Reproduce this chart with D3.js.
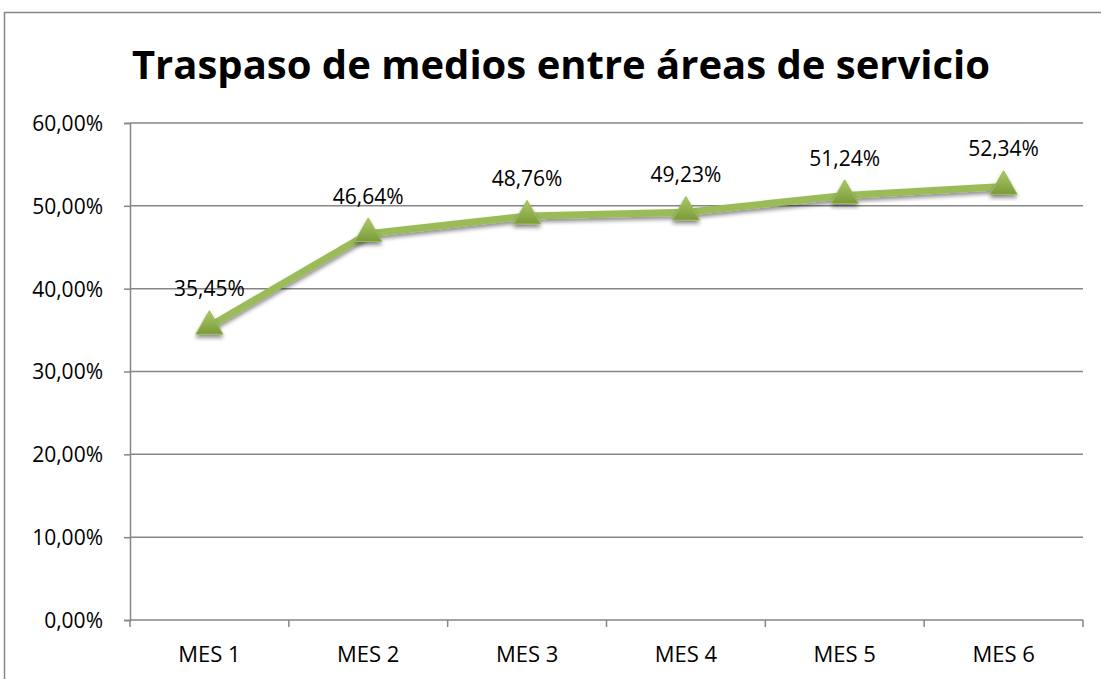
<!DOCTYPE html>
<html>
<head>
<meta charset="utf-8">
<script src="https://cdn.jsdelivr.net/npm/d3@7"></script>
<style>
  html, body { margin: 0; padding: 0; background: #fff; }
  text { font-family: "Open Sans", "Noto Sans", sans-serif; fill: #000; }
</style>
</head>
<body>
<div id="chart"></div>
<script>
const categories = ['MES 1', 'MES 2', 'MES 3', 'MES 4', 'MES 5', 'MES 6'];
const values = [35.45, 46.64, 48.76, 49.23, 51.24, 52.34];
const yTicks = [0, 10, 20, 30, 40, 50, 60];
const title = 'Traspaso de medios entre áreas de servicio';

const W = 1101, H = 679;
const margin = { top: 123, right: 18, bottom: 59, left: 130 };
const fmt = v => d3.format('.2f')(v).replace('.', ',') + '%';

const svg = d3.select('#chart').append('svg')
  .attr('width', W)
  .attr('height', H);

// outer chart frame
svg.append('rect')
  .attr('x', 4.5).attr('y', 12.5)
  .attr('width', W + 10).attr('height', H + 10)
  .attr('fill', 'none')
  .attr('stroke', '#868686')
  .attr('stroke-width', 1.5);

const defs = svg.append('defs');
const grad = defs.append('linearGradient')
  .attr('id', 'tri-grad')
  .attr('x1', 0).attr('y1', 0).attr('x2', 0).attr('y2', 1);
grad.append('stop').attr('offset', '0%').attr('stop-color', '#a9cb64');
grad.append('stop').attr('offset', '100%').attr('stop-color', '#7a9a3a');

const shadow = defs.append('filter')
  .attr('id', 'shadow')
  .attr('x', '-50%').attr('y', '-50%')
  .attr('width', '200%').attr('height', '200%');
shadow.append('feGaussianBlur').attr('in', 'SourceAlpha').attr('stdDeviation', 2).attr('result', 'blur');
shadow.append('feOffset').attr('in', 'blur').attr('dx', 0).attr('dy', 3).attr('result', 'off');
shadow.append('feComponentTransfer').attr('in', 'off').attr('result', 'soft')
  .append('feFuncA').attr('type', 'linear').attr('slope', 0.45);
const merge = shadow.append('feMerge');
merge.append('feMergeNode').attr('in', 'soft');
merge.append('feMergeNode').attr('in', 'SourceGraphic');

const x = d3.scaleBand()
  .domain(categories)
  .range([margin.left, W - margin.right]);

const y = d3.scaleLinear()
  .domain([0, 60])
  .range([H - margin.bottom, margin.top]);

// title
svg.append('text')
  .attr('x', 561)
  .attr('y', 79)
  .attr('text-anchor', 'middle')
  .style('font-weight', 'bold')
  .style('font-size', '40px')
  .text(title);

// horizontal gridlines
svg.append('g')
  .selectAll('line')
  .data(yTicks.filter(d => d > 0))
  .join('line')
  .attr('x1', margin.left).attr('x2', W - margin.right)
  .attr('y1', d => y(d)).attr('y2', d => y(d))
  .attr('stroke', '#868686')
  .attr('stroke-width', 1.5);

// y axis
const yAxis = svg.append('g')
  .attr('transform', `translate(${margin.left},0)`)
  .call(d3.axisLeft(y).tickValues(yTicks).tickFormat(fmt).tickSize(6).tickPadding(21));
yAxis.select('.domain').attr('stroke', '#868686').attr('stroke-width', 1.5);
yAxis.selectAll('.tick line').attr('stroke', '#868686').attr('stroke-width', 1.5);
yAxis.selectAll('.tick text')
  .style('font-size', '21px')
  .attr('fill', '#000')
  .attr('dy', '0.35em');

// x axis, ticks at category boundaries
const xAxisG = svg.append('g')
  .attr('transform', `translate(0,${H - margin.bottom})`);
xAxisG.append('line')
  .attr('x1', margin.left).attr('x2', W - margin.right)
  .attr('stroke', '#868686').attr('stroke-width', 1.5);
const bounds = categories.map(c => x(c)).concat([x(categories[categories.length - 1]) + x.bandwidth()]);
xAxisG.selectAll('.xtick')
  .data(bounds)
  .join('line')
  .attr('class', 'xtick')
  .attr('x1', d => d).attr('x2', d => d)
  .attr('y1', 0).attr('y2', 7)
  .attr('stroke', '#868686').attr('stroke-width', 1.5);
xAxisG.selectAll('.xlabel')
  .data(categories)
  .join('text')
  .attr('class', 'xlabel')
  .attr('x', d => x(d) + x.bandwidth() / 2)
  .attr('y', 42)
  .attr('text-anchor', 'middle')
  .style('font-size', '22px')
  .text(d => d);

// series line
const cx = d => x(d) + x.bandwidth() / 2;
const pts = categories.map((c, i) => [cx(c), y(values[i])]);

svg.append('path')
  .datum(pts)
  .attr('d', d3.line())
  .attr('fill', 'none')
  .attr('stroke', '#9bbb59')
  .attr('stroke-width', 7)
  .attr('stroke-linejoin', 'round')
  .attr('filter', 'url(#shadow)');

// triangle markers
const tri = d3.symbol().type(d3.symbolTriangle).size(320);
svg.append('g')
  .selectAll('path')
  .data(pts)
  .join('path')
  .attr('transform', d => `translate(${d[0]},${d[1]})`)
  .attr('d', tri)
  .attr('fill', 'url(#tri-grad)')
  .attr('stroke', '#9bbb59')
  .attr('stroke-width', 1)
  .attr('filter', 'url(#shadow)');

// data labels
svg.append('g')
  .selectAll('text')
  .data(values)
  .join('text')
  .attr('x', (d, i) => cx(categories[i]))
  .attr('y', d => y(d) - 30)
  .attr('text-anchor', 'middle')
  .style('font-size', '21px')
  .text(d => fmt(d));
</script>
</body>
</html>
